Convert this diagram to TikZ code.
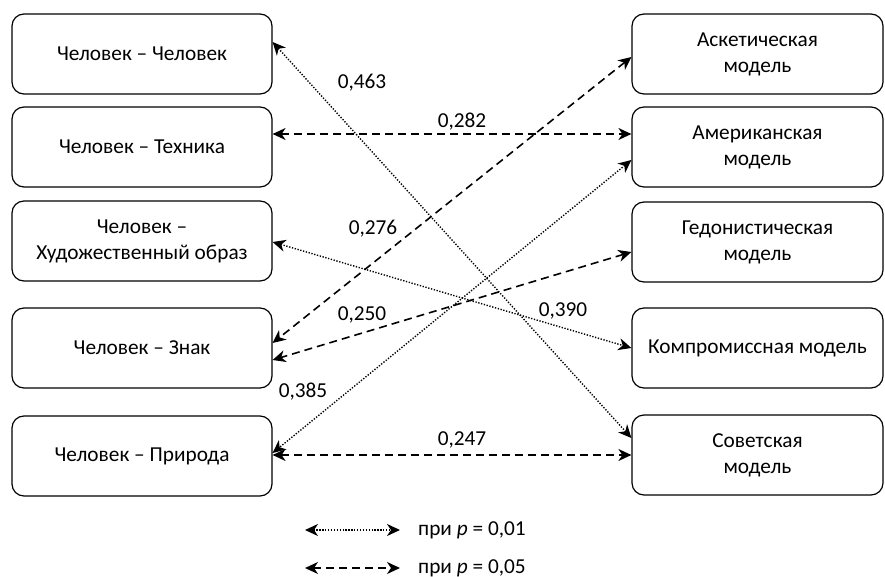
\documentclass[tikz,border=0pt]{standalone}
\usepackage{fontspec}
\setmainfont{Carlito}
\usetikzlibrary{arrows.meta,calc}
\begin{document}
\begin{tikzpicture}[x=1pt,y=-1pt, font=\fontsize{21.3}{26}\selectfont,
  box/.style={draw, line width=1.2pt, rounded corners=12pt, minimum height=80pt, align=center, inner sep=0pt},
  lbox/.style={box, minimum width=260pt},
  rbox/.style={box, minimum width=251pt},
  tip/.style={{Stealth[length=13pt,width=12pt,inset=4pt]}-{Stealth[length=13pt,width=12pt,inset=4pt]}},
  dotline/.style={tip, line width=1.4pt, dash pattern=on 1.3pt off 1.6pt},
  dashline/.style={tip, line width=1.6pt, dash pattern=on 8pt off 5pt},
  val/.style={inner sep=0pt}]
\useasboundingbox (0,0) rectangle (885,577);
\node[lbox] (L1) at (142,54) {Человек – Человек};
\node[lbox] (L2) at (142,147) {Человек – Техника};
\node[lbox] (L3) at (142,241) {Человек –\\Художественный образ};
\node[lbox] (L4) at (142,348) {Человек – Знак};
\node[lbox] (L5) at (142,456) {Человек – Природа};
\node[rbox] (R1) at (757.5,54) {Аскетическая\\модель};
\node[rbox] (R2) at (757.5,147) {Американская\\модель};
\node[rbox] (R3) at (757.5,242) {Гедонистическая\\модель};
\node[rbox] (R4) at (757.5,348) {Компромиссная модель};
\node[rbox] (R5) at (757.5,455) {Советская\\модель};
\draw[dotline] ($(L1.east)+(0,-12)$) -- ($(R5.west)+(0,-17)$);
\draw[dashline] ($(L2.east)+(0,-13)$) -- ($(R2.west)+(0,-13)$);
\draw[dashline] ($(R1.west)+(0,3)$) -- ($(L4.east)+(0,-5)$);
\draw[dotline] ($(R2.west)+(0,13)$) -- ($(L5.east)+(0,-3)$);
\draw[dashline] ($(R3.west)+(0,10)$) -- ($(L4.east)+(0,12)$);
\draw[dotline] ($(L3.east)+(0,1)$) -- ($(R4.west)+(0,0)$);
\draw[dashline] ($(L5.east)+(0,-1)$) -- ($(R5.west)+(0,0)$);
\node[val] (v1) at (362,83) {0,463};
\node[val] (v2) at (462,122) {0,282};
\node[val] (v3) at (373,229) {0,276};
\node[val] (v4) at (303,392) {0,385};
\node[val] (v5) at (362,315) {0,250};
\node[val] (v6) at (563,311) {0,390};
\node[val] (v7) at (462,440) {0,247};
\coordinate (a1) at (305,530);
\coordinate (b1) at (400,530);
\coordinate (a2) at (305,568);
\coordinate (b2) at (400,568);
\draw[dotline] (a1) -- (b1);
\draw[dashline] (a2) -- (b2);
\node[anchor=west, inner sep=0pt] (t1) at (418,530) {при \textit{p} = 0,01};
\node[anchor=west, inner sep=0pt] (t2) at (418,568) {при \textit{p} = 0,05};
\end{tikzpicture}
\end{document}
